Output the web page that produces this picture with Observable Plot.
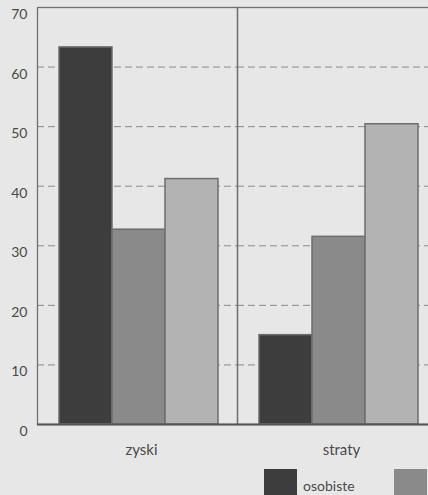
<!DOCTYPE html>
<html>
<head>
<meta charset="utf-8">
<script src="https://cdn.jsdelivr.net/npm/d3@7"></script>
<script src="https://cdn.jsdelivr.net/npm/@observablehq/plot@0.6"></script>
<style>
  html, body { margin: 0; padding: 0; background: #e7e7e7; overflow: hidden; }
  body { font-family: "Lato", "DejaVu Sans", sans-serif; color: #4a4a4a; }
  #chart svg { display: block; max-width: none !important; }
  .legend { display: flex; align-items: flex-end; margin: 4px 0 0 264px; white-space: nowrap; }
  .legend .item { display: flex; align-items: flex-end; margin-right: 39px; }
  .legend .sw { width: 33px; height: 26px; margin-right: 6px; }
  .legend .lab { font-size: 14px; line-height: 14px; padding-bottom: 2px; }
</style>
</head>
<body>
<div id="chart"></div>
<script>
// Groups along the x axis and the three series within each group
const categories = ["zyski", "straty"];
const series = ["osobiste", "zawodowe", "społeczne"];
const seriesColors = ["#3d3d3d", "#8a8a8a", "#b3b3b3"];

// Values per series, in the order of categories
const osobiste = [63.3, 15.0];
const zawodowe = [32.7, 31.5];
const spoleczne = [41.2, 50.4];

const yTicks = [0, 10, 20, 30, 40, 50, 60, 70];
const gridValues = [10, 20, 30, 40, 50, 60];

const seriesValues = [osobiste, zawodowe, spoleczne];
const data = [];
categories.forEach((c, i) => {
  series.forEach((s, j) => data.push({category: c, series: s, value: seriesValues[j][i]}));
});

const chart = Plot.plot({
  width: 445,
  height: 465,
  marginTop: 7,
  marginLeft: 37,
  marginRight: 8,
  marginBottom: 41,
  style: {background: "#e7e7e7", fontFamily: "Lato, 'DejaVu Sans', sans-serif", color: "#4a4a4a"},
  facet: {marginTop: 0, marginRight: 0, marginBottom: 0, marginLeft: 0},
  fx: {domain: categories, padding: 0, label: null},
  x: {domain: series, paddingInner: 0, paddingOuter: 0.36, align: 0.54, axis: null},
  y: {domain: [0, 70], label: null},
  color: {domain: series, range: seriesColors},
  marks: [
    Plot.ruleY(gridValues, {stroke: "#8a8a8a", strokeWidth: 1, strokeDasharray: "7,4"}),
    Plot.barY(data, {
      fx: "category", x: "series", y: "value",
      fill: "series", stroke: "#6e6e6e", strokeWidth: 1.5
    }),
    Plot.frame({stroke: "#707070", strokeWidth: 1.3}),
    Plot.ruleY([0], {stroke: "#555", strokeWidth: 2}),
    Plot.axisY(yTicks, {tickSize: 0, tickPadding: 10, dy: 7, fontSize: 14, fill: "#4a4a4a"}),
    Plot.axisFx({anchor: "bottom", tickSize: 0, tickPadding: 20, dx: 4, fontSize: 15, fill: "#4a4a4a", label: null})
  ]
});
document.getElementById("chart").append(chart);

// Legend under the chart
const legend = document.createElement("div");
legend.className = "legend";
series.forEach((s, j) => {
  const item = document.createElement("div");
  item.className = "item";
  const sw = document.createElement("div");
  sw.className = "sw";
  sw.style.background = seriesColors[j];
  const lab = document.createElement("span");
  lab.className = "lab";
  lab.textContent = s;
  item.append(sw, lab);
  legend.append(item);
});
document.body.append(legend);
</script>
</body>
</html>
